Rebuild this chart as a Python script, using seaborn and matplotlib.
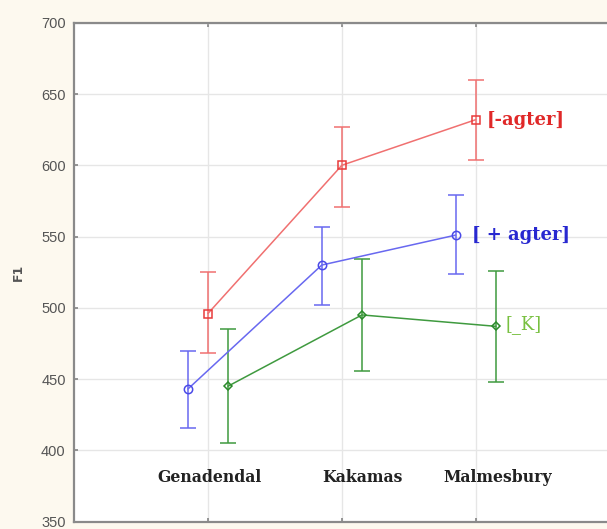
import numpy as np
import pandas as pd
import matplotlib
matplotlib.use("Agg")
import matplotlib.pyplot as plt
import seaborn as sns

categories = ["Genadendal", "Kakamas", "Malmesbury"]
series = ["[-agter]", "[ + agter]", "[_K]"]
mean_minus = [496, 600, 632]
lo_minus = [468, 571, 604]
hi_minus = [525, 627, 660]
mean_plus = [443, 530, 551]
lo_plus = [416, 502, 524]
hi_plus = [470, 557, 579]
mean_k = [445, 495, 487]
lo_k = [405, 456, 448]
hi_k = [485, 534, 526]
yticks = [350, 400, 450, 500, 550, 600, 650, 700]

sns.set_theme(style="white")
bg = "#fdf9ef"
fig = plt.figure(figsize=(6.07, 5.29), dpi=100, facecolor=bg)
ax = fig.add_axes([0.122, 0.014, 0.878, 0.943])
ax.set_facecolor("white")

offsets = [0.0, -0.15, 0.15]
means = [mean_minus, mean_plus, mean_k]
los = [lo_minus, lo_plus, lo_k]
his = [hi_minus, hi_plus, hi_k]
line_colors = ["#f07070", "#6868f0", "#3f9a3f"]
marker_cols = ["#e83a3a", "#4a4ae8", "#2a8a2a"]
markers = ["s", "o", "D"]
msizes = [6, 6, 4]

rows = []
for s, off, m in zip(series, offsets, means):
    for i, c in enumerate(categories):
        rows.append({"series": s, "x": i + off, "F1": m[i]})
df = pd.DataFrame(rows)

for s, off, m, lo, hi, lc, mc, mk, ms in zip(series, offsets, means, los, his,
                                             line_colors, marker_cols, markers, msizes):
    sub = df[df["series"] == s]
    sns.lineplot(data=sub, x="x", y="F1", ax=ax, color=lc, lw=1.1,
                 marker=mk, markersize=ms, markerfacecolor="none",
                 markeredgecolor=mc, markeredgewidth=1.1, legend=False, zorder=3)
    xs = np.arange(len(categories)) + off
    ax.errorbar(xs, m, yerr=[np.array(m) - np.array(lo), np.array(hi) - np.array(m)],
                fmt="none", ecolor=lc, elinewidth=1.1, capsize=6, capthick=1.1, zorder=2)

ax.set_xlim(-1.0, 2.98)
ax.set_ylim(350, 700)
ax.set_yticks(yticks)
ax.set_xticks(range(len(categories)))
ax.set_xticklabels([])
ax.grid(True, color="#e6e6e6", lw=1.0)
ax.set_axisbelow(True)
ax.tick_params(axis="y", direction="in", length=3, color="#888888", labelsize=10.5,
               labelcolor="#555555", pad=6, left=True)
ax.tick_params(axis="x", direction="in", length=3, color="#888888", bottom=True, top=True)
for side in ["left", "bottom", "top"]:
    ax.spines[side].set_color("#8a8a8a")
    ax.spines[side].set_linewidth(1.6)
ax.spines["right"].set_visible(False)
ax.set_xlabel("")
ax.set_ylabel("F1", fontsize=9, color="#555555", labelpad=12, fontweight="bold")
for lab in ax.get_yticklabels():
    lab.set_family(["Liberation Sans", "DejaVu Sans"])

serif = ["DejaVu Serif"]
for c, xx in zip(categories, [0.01, 1.15, 2.16]):
    ax.text(xx, 381, c, ha="center", va="center", fontsize=11.3, fontweight="bold",
            family=serif, color="#222222")

label_pos = [(2.08, 632), (1.97, 551), (2.22, 488)]
label_cols = ["#e02828", "#2828d0", "#78c040"]
label_w = ["bold", "bold", "normal"]
for s, (lx, ly), col, w in zip(series, label_pos, label_cols, label_w):
    ax.text(lx, ly, s, ha="left", va="center",
            fontsize=13, fontweight=w, family=serif, color=col)

fig.savefig("out.png", dpi=100, facecolor=bg)
